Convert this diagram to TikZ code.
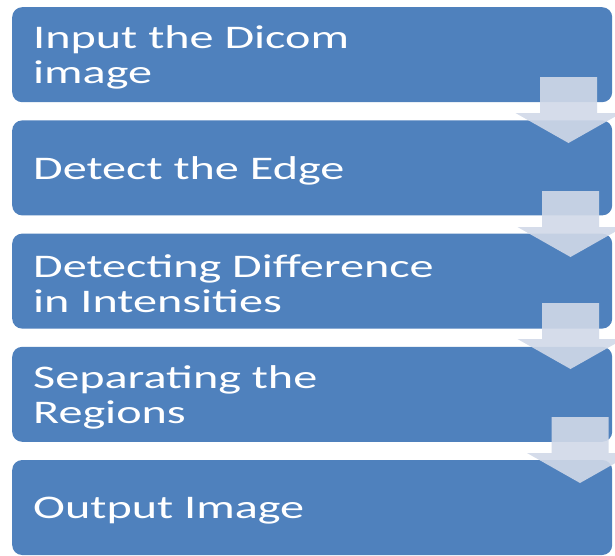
\documentclass[tikz,border=0pt]{standalone}
\usepackage{fontspec}
\setmainfont{Carlito}[FakeStretch=1.46]
\definecolor{boxblue}{HTML}{4F81BD}
\definecolor{arrowfill}{HTML}{D1D9E8}
\begin{document}
\begin{tikzpicture}[x=1pt,y=-1pt,
  stepbox/.style={fill=boxblue, rounded corners=10pt, minimum width=600pt, minimum height=95pt, anchor=north west, inner sep=0pt},
  steptext/.style={text=white, font=\fontsize{33}{35}\selectfont, align=left, anchor=west, inner sep=0pt},
  blockarrow/.style={fill=arrowfill, fill opacity=0.9, draw=none}]
\useasboundingbox (0,0) rectangle (615,555);
\fill[white] (0,0) rectangle (615,555);
\node[stepbox] (b1) at (12,7) {};
\node[stepbox] (b2) at (12,120.2) {};
\node[stepbox] (b3) at (12,233.4) {};
\node[stepbox] (b4) at (12,346.6) {};
\node[stepbox] (b5) at (12,459.8) {};
\node[steptext] (t1) at ([xshift=21pt,yshift=-3pt]b1.west) {Input the Dicom\\image};
\node[steptext] (t2) at ([xshift=21pt,yshift=-3pt]b2.west) {Detect the Edge};
\node[steptext] (t3) at ([xshift=21pt,yshift=-3pt]b3.west) {Detecting Difference\\in Intensities};
\node[steptext] (t4) at ([xshift=21pt,yshift=-3pt]b4.west) {Separating the\\Regions};
\node[steptext] (t5) at ([xshift=21pt,yshift=-3pt]b5.west) {Output Image};
\foreach \cx/\tp in {568.5/77, 570.5/191, 570.5/303, 580/417}{
  \fill[blockarrow] (\cx-28.5,\tp) -- (\cx+28.5,\tp) -- (\cx+28.5,\tp+36) -- (\cx+53,\tp+36)
    -- (\cx,\tp+66) -- (\cx-53,\tp+36) -- (\cx-28.5,\tp+36) -- cycle;
}
\end{tikzpicture}
\end{document}
